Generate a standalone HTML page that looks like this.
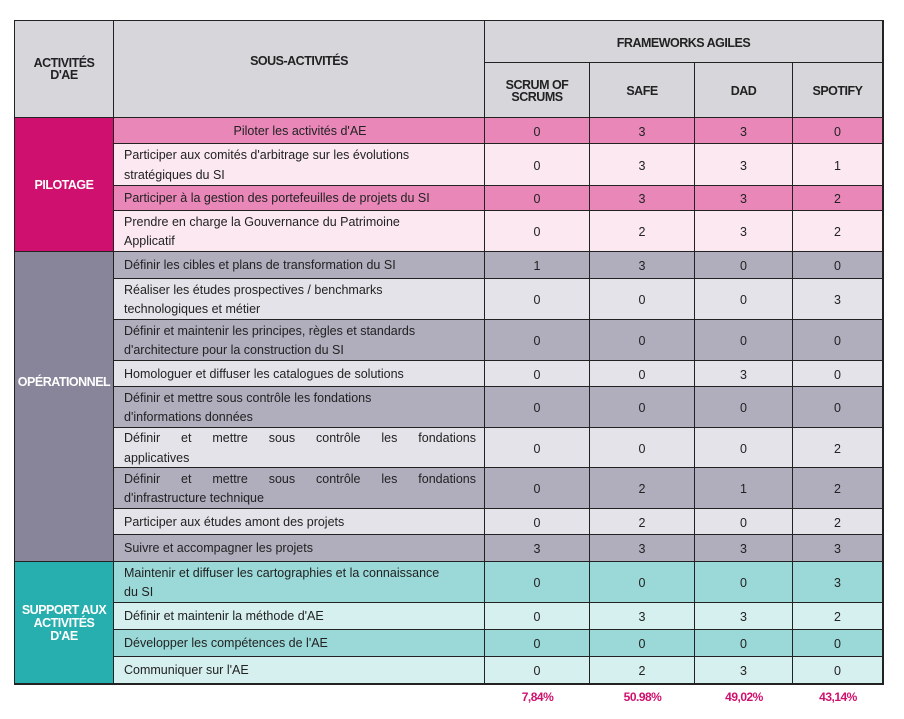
<!DOCTYPE html>
<html><head><meta charset="utf-8"><style>
body{margin:0;background:#fff;width:904px;height:719px;position:relative;overflow:hidden;font-family:"Liberation Sans",sans-serif}
.c{position:absolute;box-sizing:border-box;border-right:1px solid #222;border-bottom:1px solid #222;display:flex;align-items:center;justify-content:center;font-size:12.5px;color:#222;padding-top:2px}
.h{font-weight:bold;font-size:12.5px;text-align:center;line-height:12px;letter-spacing:-0.5px}
.t{justify-content:flex-start;padding-left:10px;padding-right:8px;line-height:19.5px;font-size:12.5px}
.t>div{width:100%}
.j{text-align:justify;text-align-last:justify}
.g{font-weight:bold;color:#fff;font-size:12.5px;text-align:center;line-height:13px;letter-spacing:-0.5px}
.p{position:absolute;top:690px;font-size:12px;font-weight:bold;color:#d0106e;text-align:center;letter-spacing:-0.5px}
</style></head><body>
<div style="position:absolute;left:14px;top:20px;width:870px;height:665px;border:1.5px solid #222;box-sizing:border-box;pointer-events:none;z-index:5"></div>
<div class="c h" style="left:15px;top:21px;width:99px;height:97px;background:#d7d6db;padding-top:0">ACTIVITÉS<br>D'AE</div>
<div class="c h" style="left:114px;top:21px;width:371px;height:97px;background:#d7d6db;align-items:flex-start;padding-top:34px">SOUS-ACTIVITÉS</div>
<div class="c h" style="left:485px;top:21px;width:398px;height:42px;background:#d7d6db">FRAMEWORKS AGILES</div>
<div class="c h" style="left:485px;top:63px;width:105px;height:55px;background:#d7d6db">SCRUM OF<br>SCRUMS</div>
<div class="c h" style="left:590px;top:63px;width:105px;height:55px;background:#d7d6db">SAFE</div>
<div class="c h" style="left:695px;top:63px;width:98px;height:55px;background:#d7d6db">DAD</div>
<div class="c h" style="left:793px;top:63px;width:90px;height:55px;background:#d7d6db">SPOTIFY</div>

<div class="c g" style="left:15px;top:118px;width:99px;height:134px;background:#d0106e">PILOTAGE</div>
<div class="c g" style="left:15px;top:252px;width:99px;height:310px;background:#888499;align-items:flex-start;padding-top:124px">OPÉRATIONNEL</div>
<div class="c g" style="left:15px;top:562px;width:99px;height:122px;background:#27aeae">SUPPORT AUX<br>ACTIVITÉS<br>D'AE</div>

<div id="rows"></div>
<script>
var R=[
[118,144,"#e887b8","<div style='text-align:center'>Piloter les activités d'AE</div>",[0,3,3,0]],
[144,186,"#fbe8f1","<div>Participer aux comités d'arbitrage sur les évolutions<br>stratégiques du SI</div>",[0,3,3,1]],
[186,211,"#e887b8","<div>Participer à la gestion des portefeuilles de projets du SI</div>",[0,3,3,2]],
[211,252,"#fbe8f1","<div>Prendre en charge la Gouvernance du Patrimoine<br>Applicatif</div>",[0,2,3,2]],
[252,279,"#b0adbd","<div>Définir les cibles et plans de transformation du SI</div>",[1,3,0,0]],
[279,320,"#e4e3e9","<div>Réaliser les études prospectives / benchmarks<br>technologiques et métier</div>",[0,0,0,3]],
[320,361,"#b0adbd","<div>Définir et maintenir les principes, règles et standards<br>d'architecture pour la construction du SI</div>",[0,0,0,0]],
[361,387,"#e4e3e9","<div>Homologuer et diffuser les catalogues de solutions</div>",[0,0,3,0]],
[387,428,"#b0adbd","<div>Définir et mettre sous contrôle les fondations<br>d'informations données</div>",[0,0,0,0]],
[428,468,"#e4e3e9","<div><div class='j'>Définir et mettre sous contrôle les fondations</div><div>applicatives</div></div>",[0,0,0,2]],
[468,509,"#b0adbd","<div><div class='j'>Définir et mettre sous contrôle les fondations</div><div>d'infrastructure technique</div></div>",[0,2,1,2]],
[509,535,"#e4e3e9","<div>Participer aux études amont des projets</div>",[0,2,0,2]],
[535,562,"#b0adbd","<div>Suivre et accompagner les projets</div>",[3,3,3,3]],
[562,603,"#9bd8d8","<div>Maintenir et diffuser les cartographies et la connaissance<br>du SI</div>",[0,0,0,3]],
[603,630,"#d6efef","<div>Définir et maintenir la méthode d'AE</div>",[0,3,3,2]],
[630,657,"#9bd8d8","<div>Développer les compétences de l'AE</div>",[0,0,0,0]],
[657,684,"#d6efef","<div>Communiquer sur l'AE</div>",[0,2,3,0]]];
var X=[[485,105],[590,105],[695,98],[793,90]],h="";
R.forEach(function(r){var H=r[1]-r[0];
h+='<div class="c t" style="left:114px;top:'+r[0]+'px;width:371px;height:'+H+'px;background:'+r[2]+'">'+r[3]+'</div>';
X.forEach(function(x,i){h+='<div class="c" style="left:'+x[0]+'px;top:'+r[0]+'px;width:'+x[1]+'px;height:'+H+'px;background:'+r[2]+'">'+r[4][i]+'</div>';});});
document.getElementById("rows").innerHTML=h;
</script>
<div class="p" style="left:485px;width:105px">7,84%</div>
<div class="p" style="left:590px;width:105px">50.98%</div>
<div class="p" style="left:695px;width:98px">49,02%</div>
<div class="p" style="left:793px;width:90px">43,14%</div>
</body></html>
